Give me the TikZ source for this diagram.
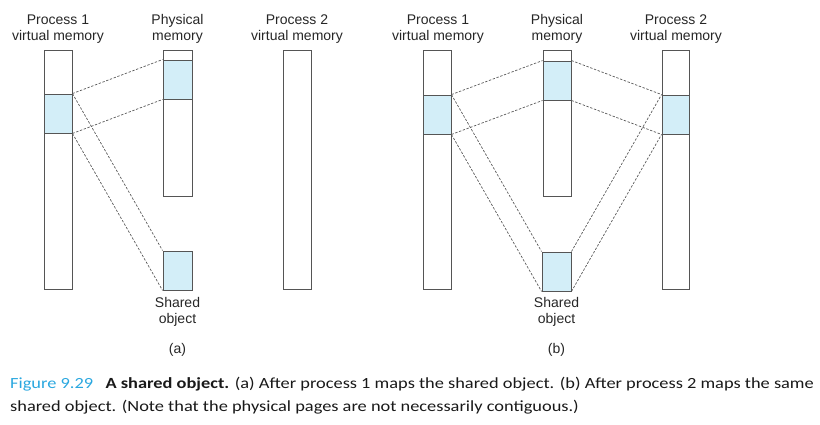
\documentclass[tikz,border=0pt]{standalone}
\usepackage{fontspec}
\setmainfont{Liberation Sans}
\newfontfamily\capfont[FakeStretch=1.185]{Carlito}
\definecolor{shade}{HTML}{D3EEF8}
\definecolor{capblue}{HTML}{2AA7DF}
\definecolor{edge}{HTML}{555555}
\begin{document}
\begin{tikzpicture}[x=1pt,y=-1pt,
  col/.style={draw=edge,line width=0.9pt,fill=white,inner sep=0pt,minimum width=28pt},
  pg/.style={draw=edge,line width=0.9pt,fill=shade,inner sep=0pt,minimum width=28pt,minimum height=39pt},
  lab/.style={align=center,font=\fontsize{14}{16}\selectfont,text=black!85,inner sep=0pt},
  map/.style={draw=black!65,line width=0.7pt,dash pattern=on 2.4pt off 1.6pt},
  capt/.style={anchor=base west,inner sep=0pt,font=\capfont\fontsize{15.5}{18}\selectfont,text=black!90}]
\useasboundingbox (0,0) rectangle (820,424);
% ---------- panel (a)
\node[col,minimum height=239pt] (a1) at (58,169.5) {};
\node[pg] (a1s) at (58,113.5) {};
\node[col,minimum width=29pt,minimum height=146pt] (ap) at (177.5,123) {};
\node[pg,minimum width=29pt] (aps) at (177.5,79.5) {};
\node[pg,minimum width=29pt] (aso) at (177.5,270.5) {};
\node[col,minimum height=239pt] (a2) at (297,169.5) {};
\node[lab] (ah1) at (58,29) {Process 1\\virtual memory};
\node[lab] (ahp) at (177.5,29) {Physical\\memory};
\node[lab] (ah2) at (297,29) {Process 2\\virtual memory};
\node[lab] (asol) at (177.5,312) {Shared\\object};
\node[lab] (ata) at (177.5,350) {(a)};
\draw[map] (a1s.north east) -- (aps.north west);
\draw[map] (a1s.south east) -- (aps.south west);
\draw[map] (a1s.north east) -- (aso.north west);
\draw[map] (a1s.south east) -- (aso.south west);
% ---------- panel (b)
\node[col,minimum height=239pt] (b1) at (437,169.5) {};
\node[pg] (b1s) at (437,114.5) {};
\node[col,minimum height=146pt] (bp) at (557,123) {};
\node[pg] (bps) at (557,80.5) {};
\node[pg,minimum width=29pt] (bso) at (556.5,271.5) {};
\node[col,minimum width=27pt,minimum height=239pt] (b2) at (675.5,169.5) {};
\node[pg,minimum width=27pt] (b2s) at (675.5,114.5) {};
\node[lab] (bh1) at (438,29) {Process 1\\virtual memory};
\node[lab] (bhp) at (557,29) {Physical\\memory};
\node[lab] (bh2) at (676,29) {Process 2\\virtual memory};
\node[lab] (bsol) at (556.5,312) {Shared\\object};
\node[lab] (btb) at (556.5,350) {(b)};
\draw[map] (b1s.north east) -- (bps.north west);
\draw[map] (b1s.south east) -- (bps.south west);
\draw[map] (bps.north east) -- (b2s.north west);
\draw[map] (bps.south east) -- (b2s.south west);
\draw[map] (b1s.north east) -- (bso.north west);
\draw[map] (b1s.south east) -- (bso.south west);
\draw[map] (bso.north east) -- (b2s.north west);
\draw[map] (bso.south east) -- (b2s.south west);
% ---------- caption
\node[capt] (cap1) at (10,388) {\textcolor{capblue}{Figure 9.29}\hspace{0.8em}\textbf{A shared object.} (a) After process 1 maps the shared object. (b) After process 2 maps the same};
\node[capt] (cap2) at (10,411) {shared object. (Note that the physical pages are not necessarily contiguous.)};
\end{tikzpicture}
\end{document}
